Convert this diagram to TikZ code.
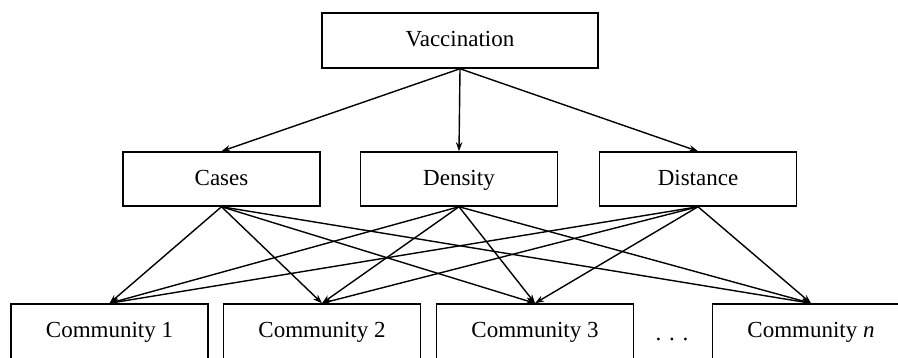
\documentclass[tikz,border=0pt]{standalone}
\usepackage{fontspec}
\setmainfont{Liberation Serif}
\usetikzlibrary{arrows.meta,positioning}

\begin{document}
\begin{tikzpicture}[x=0.5pt,y=-0.5pt,
  >={Stealth[length=4.5pt,width=3.2pt]},
  box/.style={rectangle,draw=black,line width=0.75pt,minimum width=98.5pt,minimum height=27pt,inner sep=0pt,text height=0.66em,text depth=0.04em,font=\fontsize{11.5}{13}\selectfont},
  commbox/.style={box,minimum height=29pt,text depth=0.04em+2pt},
  link/.style={->,line width=0.7pt}]
% \draw[help lines] (0,0) grid (898,358);
\useasboundingbox (0,0) rectangle (898,358);
\node (vacc) [box,minimum width=138pt,minimum height=27.5pt] at (460,40.5) {Vaccination};
%
\node (cases) [box] at (221.5,179) {Cases};
\node (dens) [box] at (459,179) {Density};
\node (dist) [box] at (698,179) {Distance};
%
\node (c1) [commbox] at (109.5,333) {Community 1};
\node (c2) [commbox] at (322,333) {Community 2};
\node (c3) [commbox] at (535,333) {Community 3};
\node (cn) [commbox] at (811,333) {Community \textit{n}};
\node (dots) [anchor=base,font=\fontsize{11.5}{13}\selectfont] at (672,340) {.\,\,.\,\,.};
%
\path[link] (vacc.south) edge (cases.north);
\path[link] (vacc.south) edge (dens.north);
\path[link] (vacc.south) edge (dist.north);
\foreach \f in {cases,dens,dist}
  \foreach \t in {c1,c2,c3,cn}
    \path[link] (\f.south) edge (\t.north);
\end{tikzpicture}
\end{document}
